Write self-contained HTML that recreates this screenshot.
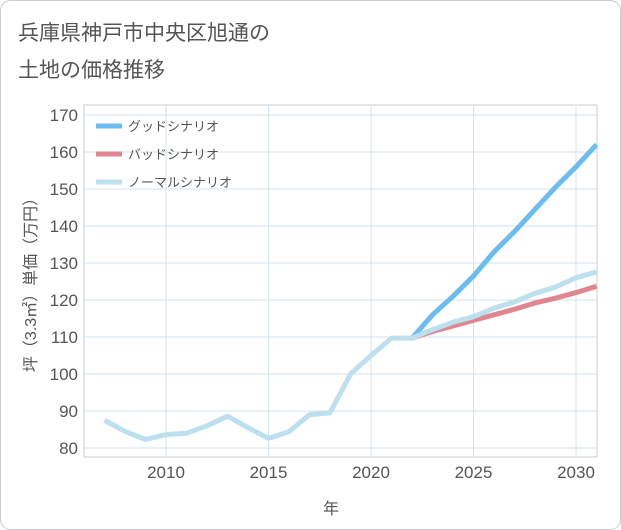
<!DOCTYPE html>
<html><head><meta charset="utf-8"><style>
body{margin:0;background:#fff;font-family:"Liberation Sans","Noto Sans CJK JP",sans-serif}
svg{display:block}
</style></head><body>
<svg id="c" width="621" height="530" xmlns="http://www.w3.org/2000/svg" font-family="Liberation Sans, Noto Sans CJK JP, sans-serif">
<rect x="0.5" y="0.5" width="620" height="529" rx="10" fill="#fff" stroke="#ccc"/>
<text x="18" y="40" font-size="21" fill="#555">兵庫県神戸市中央区旭通の</text>
<text x="18" y="77" font-size="21" fill="#555">土地の価格推移</text>
<rect x="84" y="105" width="513" height="352" fill="#fff" stroke="#ccc"/>
<g id="grid"></g><g id="series"></g><g id="legend"></g>
<text x="331" y="514" font-size="16" fill="#555" text-anchor="middle">年</text>
<text transform="translate(36,281) rotate(-90)" font-size="16" fill="#555" text-anchor="middle">坪（3.3㎡）単価（万円）</text>
</svg>
<script>
const years=[2007,2008,2009,2010,2011,2012,2013,2014,2015,2016,2017,2018,2019,2020,2021,2022,2023,2024,2025,2026,2027,2028,2029,2030,2031];
const normal=[87.5,84.5,82.3,83.6,84,86,88.6,85.5,82.6,84.4,89,89.5,100,105,109.7,109.7,112,114,115.5,117.8,119.5,121.8,123.5,126,127.6];
const goodYears=[2022,2023,2024,2025,2026,2027,2028,2029,2030,2031];
const good=[109.7,116,121,126.5,133,138.5,144.5,150.5,156,162];
const bad=[109.7,111.5,113,114.5,116,117.5,119.2,120.5,122,123.7];
const yTicks=[80,90,100,110,120,130,140,150,160,170];
const xTicks=[2010,2015,2020,2025,2030];
const NS="http://www.w3.org/2000/svg";
const X=v=>166+(v-2010)*20.5;
const Y=v=>448-(v-80)*3.7;
function mk(t,a,p){const e=document.createElementNS(NS,t);for(const k in a)e.setAttribute(k,a[k]);p.appendChild(e);return e;}
const g=document.getElementById('grid');
yTicks.forEach(v=>{
 const l=mk('line',{x1:84,x2:597,y1:Y(v),y2:Y(v),stroke:'#d3e2ee'},g);
 
 
 const t=mk('text',{x:78,y:Y(v)+6,'font-size':17,fill:'#555','text-anchor':'end'},g);t.textContent=v;
 
 
});
xTicks.forEach(v=>{
 const l=mk('line',{x1:X(v),x2:X(v),y1:105,y2:457,stroke:'#d3e2ee'},g);
 
 
 const t=mk('text',{x:X(v),y:478,'font-size':17,fill:'#555','text-anchor':'middle'},g);t.textContent=v;
 
 
});
const s=document.getElementById('series');
function line(xs,ys,col,name){
 const p=mk('polyline',{points:xs.map((x,i)=>X(x)+','+Y(ys[i])).join(' '),fill:'none',stroke:col,'stroke-width':5,'stroke-linejoin':'round'},s);
 
 
}
line(goodYears,good,'#6bbcf0','good-scenario-line');
line(goodYears,bad,'#e0868e','bad-scenario-line');
line(years,normal,'#bde0ee','normal-scenario-line');
const lg=document.getElementById('legend');
[['グッドシナリオ','#6bbcf0'],['バッドシナリオ','#e0868e'],['ノーマルシナリオ','#bde0ee']].forEach((d,i)=>{
 const y=126+i*28;
 const l=mk('line',{x1:96,x2:122,y1:y,y2:y,stroke:d[1],'stroke-width':5},lg);
 
 
 const t=mk('text',{x:128,y:y+5,'font-size':13,fill:'#555'},lg);t.textContent=d[0];
 
 
});
</script>
</body></html>
